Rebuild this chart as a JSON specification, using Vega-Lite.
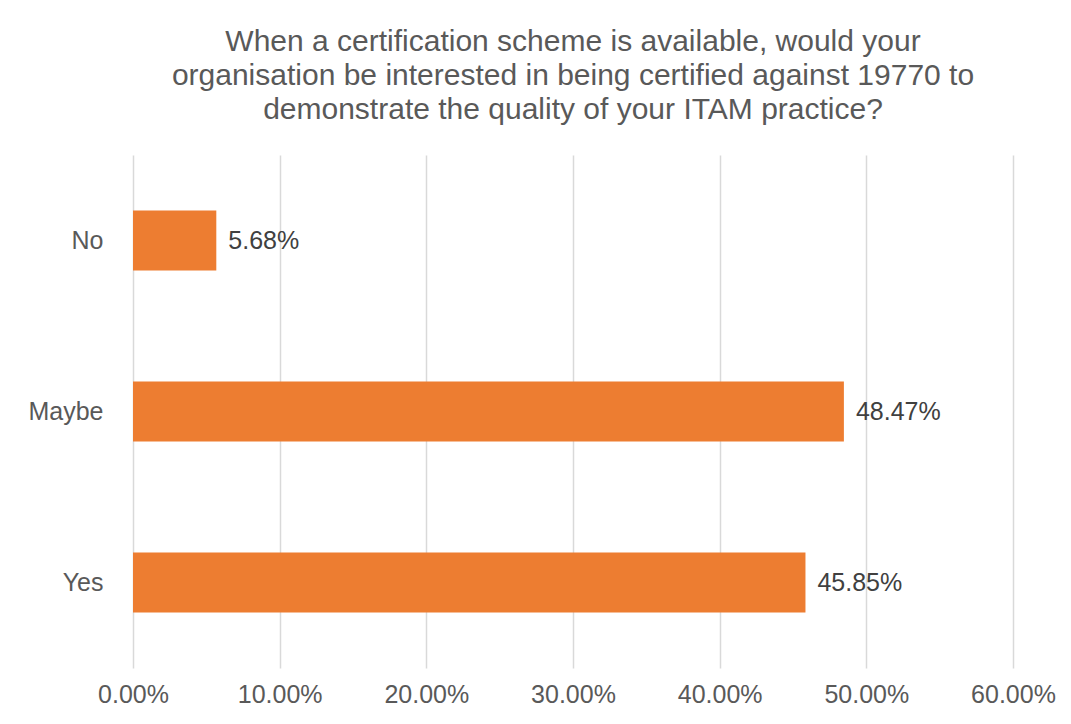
{
  "$schema": "https://vega.github.io/schema/vega-lite/v6.json",
  "autosize": {"type": "none"},
  "padding": {"left": 133, "top": 155, "right": 58, "bottom": 56},
  "width": 880,
  "height": 513,
  "background": "white",
  "title": {
    "text": ["When a certification scheme is available, would your", "organisation be interested in being certified against 19770 to", "demonstrate the quality of your ITAM practice?"],
    "font": "Liberation Sans",
    "fontSize": 30,
    "fontWeight": "normal",
    "color": "#595959",
    "lineHeight": 34,
    "anchor": "middle",
    "offset": 30
  },
  "data": {
    "values": [
      {"answer": "No", "share": 0.0568},
      {"answer": "Maybe", "share": 0.4847},
      {"answer": "Yes", "share": 0.4585}
    ]
  },
  "config": {
    "view": {"stroke": null},
    "axis": {"labelFont": "Liberation Sans", "labelColor": "#595959", "labelFontSize": 25}
  },
  "encoding": {
    "y": {
      "field": "answer", "type": "nominal", "sort": ["No", "Maybe", "Yes"],
      "scale": {"paddingInner": 0.65, "paddingOuter": 0.325},
      "axis": {"title": null, "ticks": false, "domain": false, "labelPadding": 30, "grid": false}
    },
    "x": {
      "field": "share", "type": "quantitative",
      "scale": {"domain": [0, 0.6], "nice": false},
      "axis": {"title": null, "format": ".2%", "values": [0, 0.1, 0.2, 0.3, 0.4, 0.5, 0.6], "ticks": false, "domain": false, "grid": true, "gridColor": "#d9d9d9", "gridWidth": 1.5, "labelPadding": 14, "labelFlush": false, "labelOverlap": false}
    }
  },
  "layer": [
    {"mark": {"type": "bar", "color": "#ED7D31"}},
    {
      "mark": {"type": "text", "align": "left", "baseline": "middle", "dx": 12, "font": "Liberation Sans", "fontSize": 25, "color": "#404040"},
      "encoding": {"text": {"field": "share", "type": "quantitative", "format": ".2%"}}
    }
  ]
}
